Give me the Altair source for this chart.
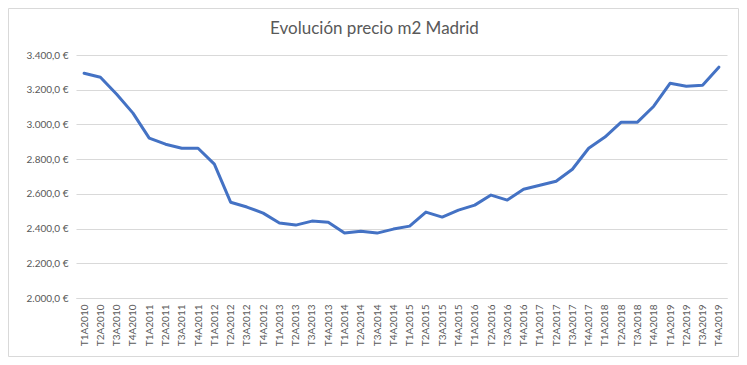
import altair as alt
import pandas as pd

periods = [f"T{q}A{y}" for y in range(2010, 2020) for q in range(1, 5)]
prices = [3295, 3272, 3174, 3065, 2921, 2886, 2863, 2863,
          2771, 2552, 2524, 2489, 2432, 2420, 2443, 2437,
          2374, 2385, 2374, 2397, 2414, 2495, 2466, 2506,
          2535, 2593, 2564, 2627, 2650, 2673, 2742, 2863,
          2927, 3013, 3013, 3105, 3237, 3220, 3226, 3330]
y_ticks = [2000, 2200, 2400, 2600, 2800, 3000, 3200, 3400]

df = pd.DataFrame({"periodo": periods, "precio": prices})

FONT = "Lato"
GREY = "#595959"
GRID = "#d9d9d9"

label_expr = ("replace(replace(replace(format(datum.value, ',.1f'), ',', '#'), '.', ','), '#', '.') + ' €'")

line = alt.Chart(df).mark_line(
    color="#4472C4", strokeWidth=3, strokeCap="round", strokeJoin="round"
).encode(
    x=alt.X("periodo:N", sort=periods, title=None,
            scale=alt.Scale(type="point", padding=0.5),
            axis=alt.Axis(labelAngle=-90, labelFontSize=10, labelColor=GREY,
                          labelFont=FONT, ticks=False, domainColor=GRID,
                          labelPadding=6, grid=False)),
    y=alt.Y("precio:Q", title=None,
            scale=alt.Scale(domain=[2000, 3400], nice=False, zero=False),
            axis=alt.Axis(values=y_ticks, labelExpr=label_expr, labelFontSize=10,
                          labelColor=GREY, labelFont=FONT, ticks=False, domain=False,
                          gridColor=GRID, labelPadding=8)),
)

border = alt.Chart(alt.Data(values=[{}])).mark_rect(
    fill=None, stroke=GRID, strokeWidth=1, clip=False
).encode(
    x=alt.value(-67.5), x2=alt.value(662.5), y=alt.value(-46.5), y2=alt.value(301.5)
)

chart = alt.layer(border, line).properties(
    width=651, height=243,
    title=alt.TitleParams("Evolución precio m2 Madrid", font=FONT, fontSize=17,
                          fontWeight="normal", color=GREY, anchor="middle",
                          dx=-27, offset=-30),
    autosize=alt.AutoSizeParams(type="none"),
    padding={"left": 68, "top": 47, "right": 12, "bottom": 59},
).configure_view(stroke=None)

chart.save("out.html", embed_options={"renderer": "svg", "actions": False})
